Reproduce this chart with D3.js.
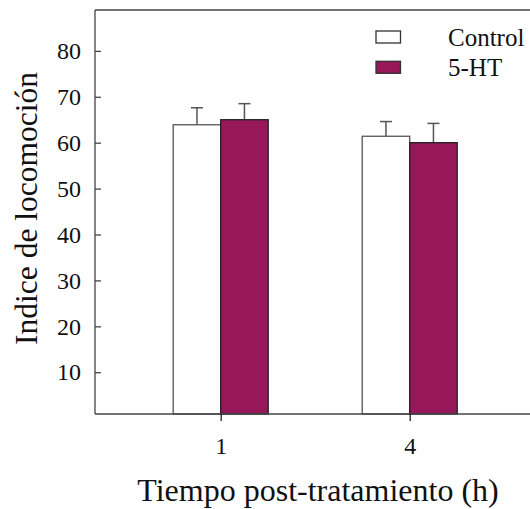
<!DOCTYPE html>
<html><head><meta charset="utf-8">
<script src="https://cdn.jsdelivr.net/npm/d3@7"></script>
<style>body{margin:0;background:#fff}svg{display:block}</style>
</head><body>
<script>
const categories = ["1", "4"];
const seriesNames = ["Control", "5-HT"];
const controlValues = [63.9, 61.4];
const controlErrors = [3.7, 3.2];
const htValues = [65.0, 60.0];
const htErrors = [3.5, 4.2];
const yTicks = [10, 20, 30, 40, 50, 60, 70, 80];
const colors = ["#ffffff", "#96175a"];
const strokes = ["#555555", "#222222"];

(function () {
const W = 530, H = 509;
const svg = d3.select("body").append("svg").attr("width", W).attr("height", H);
const font = "'Liberation Serif', 'Times New Roman', serif";
const mLeft = 95, mTop = 10, mBottom = 414, mRight = 530;

const y = d3.scaleLinear().domain([0.9, 88.9]).range([mBottom, mTop]);
const x = d3.scalePoint().domain(categories).range([220.7, 409.7]);
const barW = 47.5;

svg.append("line").attr("x1", mLeft).attr("x2", mRight).attr("y1", mTop).attr("y2", mTop)
  .attr("stroke", "#444").attr("stroke-width", 1.3);

const series = [
  {name: seriesNames[0], vals: controlValues, errs: controlErrors, off: -barW},
  {name: seriesNames[1], vals: htValues, errs: htErrors, off: 0}
];

series.forEach((s, si) => {
  categories.forEach((c, i) => {
    const x0 = x(c) + s.off;
    const xm = x0 + barW / 2;
    svg.append("line").attr("x1", xm).attr("x2", xm)
      .attr("y1", y(s.vals[i])).attr("y2", y(s.vals[i] + s.errs[i]))
      .attr("stroke", "#555").attr("stroke-width", 1.5);
    svg.append("line").attr("x1", xm - 6).attr("x2", xm + 6)
      .attr("y1", y(s.vals[i] + s.errs[i])).attr("y2", y(s.vals[i] + s.errs[i]))
      .attr("stroke", "#555").attr("stroke-width", 1.5);
  });
});
series.forEach((s, si) => {
  categories.forEach((c, i) => {
    const x0 = x(c) + s.off;
    svg.append("rect").attr("x", x0).attr("y", y(s.vals[i]))
      .attr("width", barW).attr("height", mBottom - y(s.vals[i]))
      .attr("fill", colors[si]).attr("stroke", strokes[si]).attr("stroke-width", 1.3);
  });
});

const yAxis = d3.axisLeft(y).tickValues(yTicks).tickSize(-6).tickPadding(14).tickSizeOuter(0);
const ya = svg.append("g").attr("transform", `translate(${mLeft},0)`).call(yAxis);
ya.select(".domain").attr("stroke", "#444").attr("stroke-width", 1.3)
  .attr("d", `M0,${mTop}V${mBottom}`);
ya.selectAll(".tick line").attr("stroke", "#444").attr("stroke-width", 1.3);
ya.selectAll(".tick text").attr("font-family", font).attr("font-size", 24).attr("fill", "#111");

const xAxis = d3.axisBottom(x).tickSize(7).tickPadding(16).tickSizeOuter(0);
const xa = svg.append("g").attr("transform", `translate(0,${mBottom})`).call(xAxis);
xa.select(".domain").attr("stroke", "#444").attr("stroke-width", 1.3).attr("d", `M${mLeft},0H${mRight}`);
xa.selectAll(".tick line").attr("stroke", "#222").attr("stroke-width", 1.3);
xa.selectAll(".tick text").attr("font-family", font).attr("font-size", 24).attr("fill", "#111");

svg.append("text").attr("x", 318).attr("y", 501).attr("text-anchor", "middle")
  .attr("font-family", font).attr("font-size", 32).attr("fill", "#111")
  .text("Tiempo post-tratamiento (h)");
svg.append("text").attr("transform", "translate(37,208.5) rotate(-90)").attr("text-anchor", "middle")
  .attr("font-family", font).attr("font-size", 31.5).attr("fill", "#111")
  .text("Indice de locomoción");

seriesNames.forEach((n, i) => {
  const ly = 31 + i * 30.3;
  svg.append("rect").attr("x", 376).attr("y", ly).attr("width", 24.5).attr("height", 12)
    .attr("fill", colors[i]).attr("stroke", "#333").attr("stroke-width", 1.3);
  svg.append("text").attr("x", 448).attr("y", ly + 14.5).attr("font-family", font)
    .attr("font-size", 25).attr("fill", "#111").text(n);
});
})();
</script>
</body></html>
